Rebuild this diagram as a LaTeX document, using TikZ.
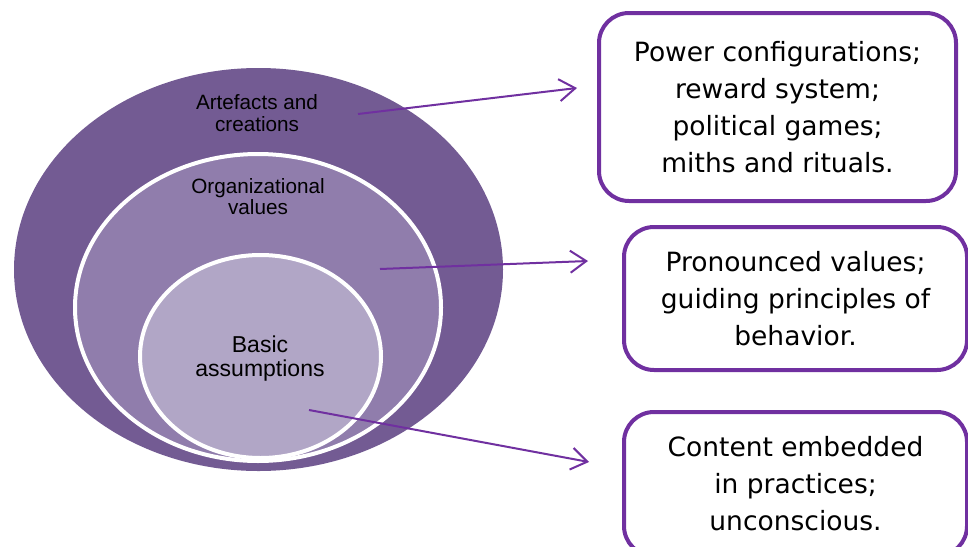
\documentclass[tikz,border=0pt]{standalone}
\usepackage{fontspec}
\setmainfont{Liberation Sans}
\newfontfamily\boxfont{DejaVu Sans}
\usetikzlibrary{arrows.meta,shapes.geometric}
\definecolor{outerc}{HTML}{735B93}
\definecolor{midc}{HTML}{907DAC}
\definecolor{innerc}{HTML}{B1A6C6}
\definecolor{accent}{HTML}{7030A0}
\begin{document}
\begin{tikzpicture}[x=1pt,y=-1pt,
  layer/.style={ellipse, inner sep=0pt, outer sep=0pt},
  ringline/.style={draw=white, line width=4pt},
  eltext/.style={align=center, text=black, inner sep=0pt, font=\fontsize{20.7}{21.5}\selectfont},
  infobox/.style={draw=accent, line width=4pt, rounded corners=30pt, fill=white,
    align=center, inner sep=0pt, font=\boxfont\fontsize{26.5}{37}\selectfont},
  pointer/.style={draw=accent, line width=2pt, -{Straight Barb[length=16pt,width=22pt]}}
]
\useasboundingbox (0,0) rectangle (968,546);

% nested ellipses
\node[layer, fill=outerc, minimum width=489pt, minimum height=403pt] (outer) at (258.5,269.5) {};
\node[layer, fill=midc, ringline, minimum width=366pt, minimum height=307pt] (middle) at (258,307.5) {};
\node[layer, fill=innerc, ringline, minimum width=241pt, minimum height=203pt] (inner) at (260.5,356.5) {};

% ellipse labels
\node[eltext] (tout) at (257,113) {Artefacts and\\creations};
\node[eltext] (tmid) at (258,196.5) {Organizational\\values};
\node[eltext, font=\fontsize{23}{24}\selectfont] (tin) at (260,359) {Basic\\assumptions};

% boxes
\node[infobox, minimum width=357pt, minimum height=188pt] (box1) at (777.5,107)
  {Power configurations;\\reward system;\\political games;\\miths and rituals.};
\node[infobox, minimum width=343pt, minimum height=143pt] (box2) at (795.5,298.5)
  {Pronounced values;\\guiding principles of\\behavior.};
\node[infobox, minimum width=343pt, minimum height=144pt] (box3) at (795.5,484)
  {Content embedded\\in practices;\\unconscious.};

% arrows
\coordinate (a1s) at (358,114);
\coordinate (a1e) at (577,88);
\coordinate (a2s) at (380,269);
\coordinate (a2e) at (588,261);
\coordinate (a3s) at (309,410);
\coordinate (a3e) at (589,462);
\draw[pointer] (a1s) -- (a1e);
\draw[pointer] (a2s) -- (a2e);
\draw[pointer] (a3s) -- (a3e);
\end{tikzpicture}
\end{document}
